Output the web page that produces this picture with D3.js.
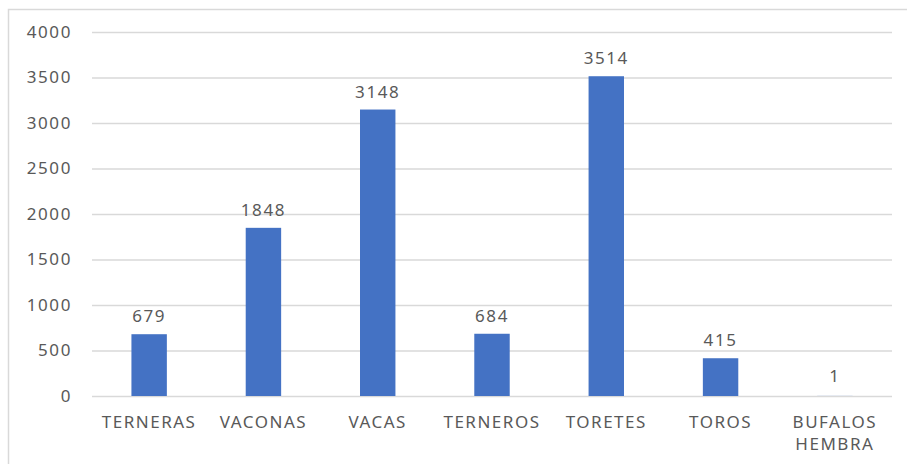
<!DOCTYPE html>
<html>
<head>
<meta charset="utf-8">
<script src="https://cdn.jsdelivr.net/npm/d3@7"></script>
<style>
  body { margin: 0; background: #fff; }
  text { font-family: "Noto Sans", sans-serif; fill: #595959; }
</style>
</head>
<body>
<svg></svg>
<script>
var width = 907;
var height = 464;

var categories = ["TERNERAS", "VACONAS", "VACAS", "TERNEROS", "TORETES", "TOROS", "BUFALOS HEMBRA"];
var values = [679, 1848, 3148, 684, 3514, 415, 1];
var yTicks = [0, 500, 1000, 1500, 2000, 2500, 3000, 3500, 4000];

var margin = { left: 92, right: 15, top: 32, bottom: 68 };

var svg = d3.select("svg")
  .attr("width", width)
  .attr("height", height);

// chart frame (top and left edges visible)
svg.append("path")
  .attr("d", "M8.5," + height + "V9.5H" + width)
  .attr("fill", "none")
  .attr("stroke", "#d9d9d9")
  .attr("stroke-width", 1.5);

var xScale = d3.scaleBand()
  .domain(categories)
  .range([margin.left, width - margin.right])
  .paddingInner(0.69)
  .paddingOuter(0.345);

var yScale = d3.scaleLinear()
  .domain([0, 4000])
  .range([height - margin.bottom, margin.top]);

// gridlines + y labels
var yAxis = svg.append("g")
  .attr("transform", "translate(" + margin.left + ",0)")
  .call(d3.axisLeft(yScale)
    .tickValues(yTicks)
    .tickFormat(d3.format("d"))
    .tickSize(-(width - margin.left - margin.right))
    .tickPadding(20));

yAxis.select(".domain").remove();
yAxis.selectAll("line")
  .attr("stroke", "#d9d9d9")
  .attr("stroke-width", 1.3);
yAxis.selectAll("text")
  .style("font-size", "17px")
  .style("letter-spacing", "1.6px")
  .attr("fill", "#595959");

// bars
svg.selectAll("rect.bar")
  .data(values)
  .enter()
  .append("rect")
  .attr("class", "bar")
  .attr("x", (d, i) => xScale(categories[i]))
  .attr("y", d => yScale(d))
  .attr("width", xScale.bandwidth())
  .attr("height", d => yScale(0) - yScale(d))
  .attr("fill", "#4472c4");

// value labels
svg.selectAll("text.val")
  .data(values)
  .enter()
  .append("text")
  .attr("class", "val")
  .attr("x", (d, i) => xScale(categories[i]) + xScale.bandwidth() / 2)
  .attr("y", d => Math.min(yScale(d) - 12, 382))
  .attr("text-anchor", "middle")
  .style("font-size", "17px")
  .style("letter-spacing", "1.6px")
  .text(d => d);

// category labels (wrap on space for the last one)
svg.selectAll("text.cat")
  .data(categories)
  .enter()
  .append("text")
  .attr("class", "cat")
  .attr("x", d => xScale(d) + xScale.bandwidth() / 2)
  .attr("y", 428)
  .attr("text-anchor", "middle")
  .style("font-size", "17px")
  .style("letter-spacing", "1.5px")
  .each(function(d) {
    var words = d.split(" ");
    var t = d3.select(this);
    if (d === "BUFALOS HEMBRA") {
      words.forEach((w, i) => {
        t.append("tspan")
          .attr("x", xScale(d) + xScale.bandwidth() / 2)
          .attr("dy", i === 0 ? 0 : 22)
          .text(w);
      });
    } else {
      t.text(d);
    }
  });
</script>
</body>
</html>
